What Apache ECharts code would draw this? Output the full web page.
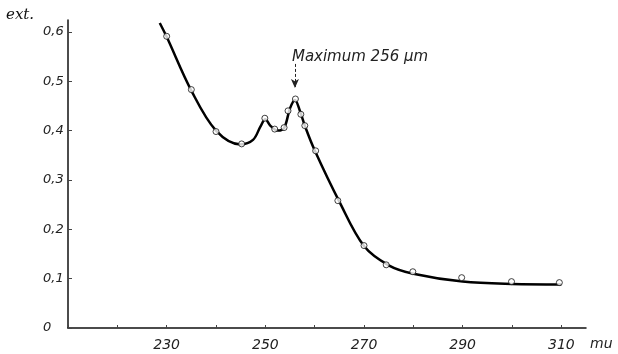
<!DOCTYPE html>
<html>
<head>
<meta charset="utf-8">
<script src="https://cdn.jsdelivr.net/npm/echarts@6/dist/echarts.min.js"></script>
<style>
  html, body { margin: 0; padding: 0; background: #fff; }
  #chart { width: 618px; height: 354px; }
</style>
</head>
<body>
<div id="chart"></div>
<script>
// drawn absorption curve (wavelength mu -> extinction)
const curveX = [228.6, 230, 235, 240, 245, 247.5, 249, 250, 251, 252.5, 253.8, 255, 256, 257, 258, 260, 265, 270, 275, 280, 290, 300, 310];
const curveY = [0.618, 0.590, 0.481, 0.400, 0.372, 0.381, 0.408, 0.423, 0.410, 0.400, 0.405, 0.445, 0.462, 0.440, 0.410, 0.360, 0.256, 0.166, 0.127, 0.110, 0.094, 0.089, 0.088];

// measured points (small open circles)
const pointX = [230, 235, 240, 245.2, 249.9, 251.9, 253.8, 254.6, 256.1, 257.2, 258, 260.2, 264.7, 270, 274.5, 279.9, 289.8, 299.9, 309.6];
const pointY = [0.591, 0.483, 0.398, 0.373, 0.425, 0.403, 0.406, 0.440, 0.464, 0.433, 0.410, 0.359, 0.258, 0.167, 0.128, 0.114, 0.102, 0.094, 0.092];

const xLabels = [230, 250, 270, 290, 310];
const yLabels = [0, 0.1, 0.2, 0.3, 0.4, 0.5, 0.6];

const maxWave = 256;

const chart = echarts.init(document.getElementById('chart'));

const tickFont = {
  fontFamily: 'DejaVu Sans',
  fontStyle: 'italic',
  fontSize: 14,
  color: '#222',
};

chart.setOption({
  animation: false,
  grid: { left: 68, right: 32, top: 20, bottom: 26 },
  xAxis: {
    type: 'value',
    min: 210,
    max: 315,
    interval: 10,
    splitLine: { show: false },
    axisLine: { show: true, lineStyle: { color: '#111', width: 1.5 } },
    axisTick: { show: true, inside: true, length: 3, lineStyle: { color: '#444', width: 1 } },
    axisLabel: {
      ...tickFont,
      margin: 10,
      showMaxLabel: false,
      formatter: function (v) {
        return xLabels.indexOf(v) >= 0 ? String(v) : '';
      },
    },
  },
  yAxis: {
    type: 'value',
    min: 0,
    max: 0.624,
    interval: 0.1,
    splitLine: { show: false },
    axisLine: { show: true, lineStyle: { color: '#111', width: 1.5 } },
    axisTick: { show: true, inside: true, length: 4, lineStyle: { color: '#444', width: 1 } },
    axisLabel: {
      ...tickFont,
      fontSize: 13,
      margin: 25,
      align: 'left',
      showMaxLabel: false,
      formatter: function (v) {
        const r = Math.round(v * 10) / 10;
        if (Math.abs(r - v) > 1e-6 || yLabels.indexOf(r) < 0) return '';
        return r === 0 ? '0' : r.toFixed(1).replace('.', ',');
      },
    },
  },
  series: [
    {
      name: 'curve',
      type: 'line',
      smooth: 0.35,
      showSymbol: false,
      silent: true,
      lineStyle: { color: '#000', width: 2.5 },
      data: curveX.map((x, i) => [x, curveY[i]]),
      z: 2,
    },
    {
      name: 'points',
      type: 'scatter',
      symbol: 'circle',
      symbolSize: 6,
      itemStyle: { color: '#fff', borderColor: '#111', borderWidth: 1 },
      data: pointX.map((x, i) => [x, pointY[i]]),
      z: 3,
      markLine: {
        silent: true,
        symbol: ['none', 'arrow'],
        symbolSize: [6, 9],
        lineStyle: { color: '#222', type: [3, 2], width: 1 },
        label: { show: false },
        data: [[{ coord: [maxWave, 0.535] }, { coord: [maxWave, 0.486] }]],
      },
      markPoint: {
        silent: true,
        symbol: 'circle',
        symbolSize: 0,
        data: [{ coord: [maxWave, 0.548] }],
        label: {
          show: true,
          position: 'right',
          distance: 0,
          offset: [-3, 0],
          formatter: 'Maximum 256 µm',
          fontFamily: 'DejaVu Sans',
          fontStyle: 'italic',
          fontSize: 15,
          color: '#222',
        },
      },
    },
  ],
  graphic: [
    {
      type: 'text',
      left: 6,
      top: 8,
      style: {
        text: 'ext.',
        font: 'italic 15px "DejaVu Serif"',
        fill: '#111',
      },
    },
    {
      type: 'text',
      left: 590,
      top: 337,
      style: {
        text: 'mu',
        font: 'italic 14px "DejaVu Sans"',
        fill: '#222',
      },
    },
  ],
});
</script>
</body>
</html>
